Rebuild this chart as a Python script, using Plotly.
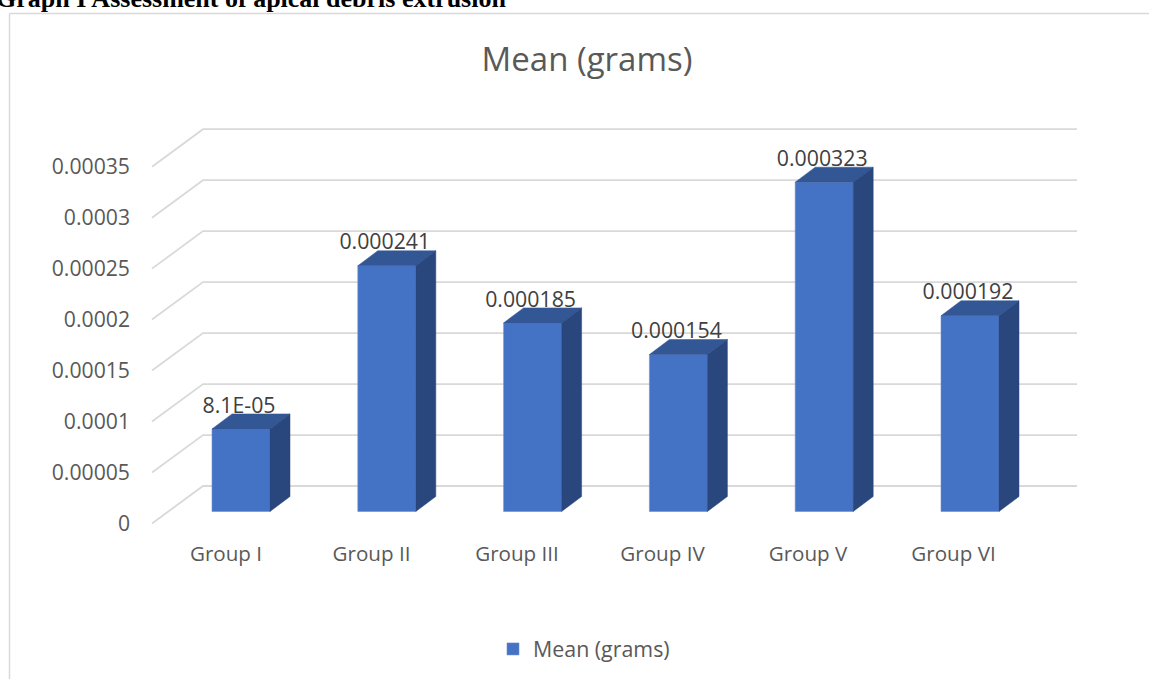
import plotly.graph_objects as go

# ---- data ----
groups = ["Group I", "Group II", "Group III", "Group IV", "Group V", "Group VI"]
means = [0.000081, 0.000241, 0.000185, 0.000154, 0.000323, 0.000192]
value_labels = ["8.1E-05", "0.000241", "0.000185", "0.000154", "0.000323", "0.000192"]
y_ticks = [0, 0.00005, 0.0001, 0.00015, 0.0002, 0.00025, 0.0003, 0.00035]
y_tick_labels = ["0", "0.00005", "0.0001", "0.00015", "0.0002", "0.00025", "0.0003", "0.00035"]
heading = "Graph I Assessment of apical debris extrusion"
chart_title = "Mean (grams)"
series_name = "Mean (grams)"

# ---- layout geometry (pixels) ----
W, H = 1149, 679
STEP = 145.8
FIRST_CENTER = 241
Y0_BAR = 511.5
Y0_LABEL = 523.5
PX_PER_VALUE = 1.0195e6
BAR_W = 58 / STEP
DX = 20 / STEP
DY = 15 / PX_PER_VALUE
LABEL_DROP = 4 / PX_PER_VALUE
FONT = "Open Sans"

x_range = [(0 - FIRST_CENTER) / STEP, (W - FIRST_CENTER) / STEP]
y2_range = [(Y0_BAR - H) / PX_PER_VALUE, Y0_BAR / PX_PER_VALUE]
y_range = [(Y0_LABEL - H) / PX_PER_VALUE, Y0_LABEL / PX_PER_VALUE]
x2_range = [(0 - 226) / 145.5, (W - 226) / 145.5]


def px_x(p):
    return (p - FIRST_CENTER) / STEP


fig = go.Figure()

# floor and wall gridlines
gx, gy = [], []
back_dy = 37.5 / PX_PER_VALUE
for t in y_ticks:
    gx += [px_x(152), px_x(203), px_x(1077), None]
    gy += [t, t + back_dy, t + back_dy, None]
fig.add_trace(go.Scatter(x=gx, y=gy, mode="lines", xaxis="x", yaxis="y",
                         line=dict(color="#D9D9D9", width=1.8),
                         showlegend=False, hoverinfo="skip"))

# front faces
fig.add_trace(go.Bar(x=list(range(len(groups))), y=means, width=BAR_W, name=series_name,
                     xaxis="x", yaxis="y2", showlegend=True,
                     marker=dict(color="#4472C4", line=dict(color="#6F8FD0", width=0.6))))

# top and side faces
for i, v in enumerate(means):
    l, r = i - BAR_W / 2, i + BAR_W / 2
    fig.add_trace(go.Scatter(x=[l, r, r + DX, l + DX, l], y=[v, v, v + DY, v + DY, v],
                             mode="lines", fill="toself", fillcolor="#335694",
                             line=dict(color="#335694", width=0.5),
                             xaxis="x", yaxis="y2", showlegend=False, hoverinfo="skip"))
    fig.add_trace(go.Scatter(x=[r, r + DX, r + DX, r, r], y=[0, DY, v + DY, v, 0],
                             mode="lines", fill="toself", fillcolor="#29477D",
                             line=dict(color="#29477D", width=0.5),
                             xaxis="x", yaxis="y2", showlegend=False, hoverinfo="skip"))

# value labels
fig.add_trace(go.Scatter(x=[i - 2 / STEP for i in range(len(groups))],
                         y=[v + DY - LABEL_DROP for v in means], mode="text", text=value_labels,
                         textposition="top center",
                         textfont=dict(family=FONT, size=21.3, color="#404040"),
                         xaxis="x", yaxis="y2", showlegend=False, hoverinfo="skip"))

# dummy trace so the label x-axis is drawn
fig.add_trace(go.Scatter(x=list(range(len(groups))), y=[None] * len(groups), mode="markers",
                         xaxis="x2", yaxis="y", showlegend=False, hoverinfo="skip"))

fig.update_layout(
    width=W, height=H, autosize=False,
    margin=dict(l=0, r=0, t=0, b=0),
    paper_bgcolor="white", plot_bgcolor="rgba(0,0,0,0)",
    font=dict(family=FONT, color="#595959"),
    title=dict(text=chart_title, x=587 / W, xanchor="center", y=1 - 59 / H, yanchor="middle",
               font=dict(family=FONT, size=33, color="#595959")),
    xaxis=dict(range=x_range, visible=False, domain=[0, 1]),
    yaxis=dict(range=y_range, domain=[0, 1], anchor="free", position=130 / W, side="left",
               tickmode="array", tickvals=y_ticks, ticktext=y_tick_labels,
               showgrid=False, zeroline=False, showline=False, ticks="",
               tickfont=dict(family=FONT, size=21.2, color="#595959")),
    yaxis2=dict(range=y2_range, overlaying="y", visible=False),
    xaxis2=dict(type="linear", overlaying="x", range=x2_range, anchor="free",
                position=1 - 539 / H, side="bottom",
                tickmode="array", tickvals=list(range(len(groups))), ticktext=groups,
                showgrid=False, zeroline=False, showline=False, ticks="",
                tickfont=dict(family=FONT, size=20.6, color="#595959")),
    legend=dict(x=584 / W, y=1 - 649 / H, xanchor="center", yanchor="middle",
                bgcolor="rgba(0,0,0,0)", font=dict(family=FONT, size=21.4, color="#595959")),
    shapes=[
        dict(type="line", xref="paper", yref="paper", x0=9.5 / W, x1=1, y0=1 - 13.5 / H, y1=1 - 13.5 / H,
             line=dict(color="#D9D9D9", width=1.5)),
        dict(type="line", xref="paper", yref="paper", x0=9.5 / W, x1=9.5 / W, y0=0, y1=1 - 13.5 / H,
             line=dict(color="#D9D9D9", width=1.5)),
    ],
    annotations=[
        dict(text="<b>" + heading + "</b>", xref="paper", yref="paper", x=-6 / W, y=1 - 15 / H,
             xanchor="left", yanchor="bottom", showarrow=False, align="left",
             font=dict(family="Liberation Serif", size=26, color="black")),
    ],
)

fig.write_html("out.html", config=dict(displayModeBar=False),
               post_script="document.body.style.margin='0';document.body.style.overflow='hidden';")
